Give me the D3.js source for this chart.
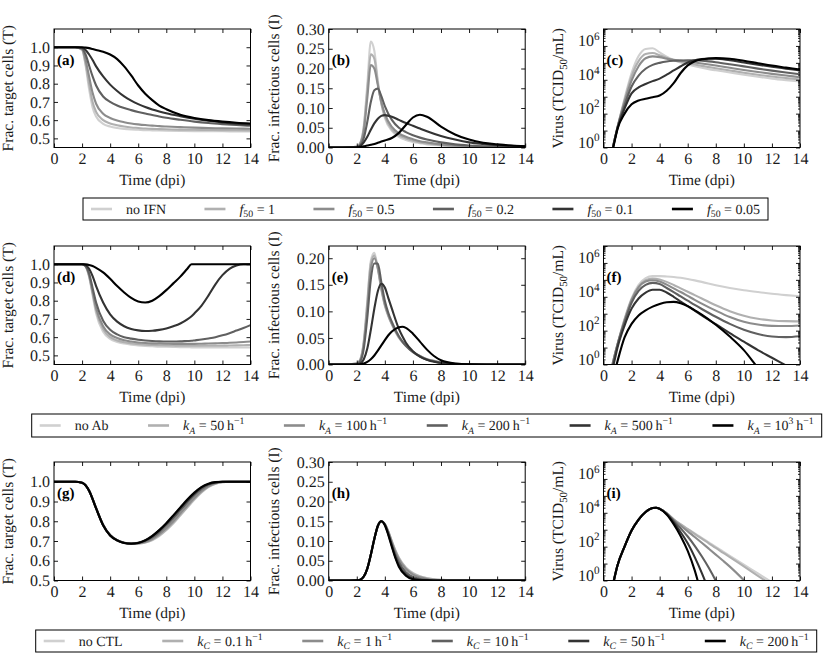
<!DOCTYPE html>
<html>
<head>
<meta charset="utf-8">
<script src="https://cdn.jsdelivr.net/npm/d3@7"></script>
<style>
  body { margin: 0; background: #fff; }
  svg { display: block; font-family: 'Liberation Serif', 'Times New Roman', serif; font-weight: normal; text-rendering: geometricPrecision; }
  svg text { fill: #1a1a1a; }
</style>
</head>
<body>
<svg id="fig" width="830" height="661"></svg>
<script>
// ---- data (6 series per panel, lightest -> black) ----
var xTicks = [0, 2, 4, 6, 8, 10, 12, 14];
var targetTicks = [0.5, 0.6, 0.7, 0.8, 0.9, 1.0];
var infTicksWide = [0, 0.05, 0.10, 0.15, 0.20, 0.25, 0.30];
var infTicksNarrow = [0, 0.05, 0.10, 0.15, 0.20];
var virusDecades = [0, 1, 2, 3, 4, 5, 6, 7];

var legendIFN = ['no IFN', '$f$_{50} = 1', '$f$_{50} = 0.5', '$f$_{50} = 0.2', '$f$_{50} = 0.1', '$f$_{50} = 0.05'];
var legendAb = ['no Ab', '$k$_{$A$} = 50\u2009h^{\u22121}', '$k$_{$A$} = 100\u2009h^{\u22121}', '$k$_{$A$} = 200\u2009h^{\u22121}',
  '$k$_{$A$} = 500\u2009h^{\u22121}', '$k$_{$A$} = 10^{3}\u2009h^{\u22121}'];
var legendCTL = ['no CTL', '$k$_{$C$} = 0.1\u2009h^{\u22121}', '$k$_{$C$} = 1\u2009h^{\u22121}', '$k$_{$C$} = 10\u2009h^{\u22121}',
  '$k$_{$C$} = 50\u2009h^{\u22121}', '$k$_{$C$} = 200\u2009h^{\u22121}'];

// (a) target cells, IFN
var timeA = [0, 1, 1.5, 2, 2.25, 2.5, 2.75, 3, 3.5, 4, 4.5, 5, 5.5, 6, 6.5, 7, 7.5, 8, 9, 10, 11, 12, 13, 14];
var targetIFN = [
  [1, 1, 1, 0.985, 0.9, 0.77, 0.67, 0.62, 0.58, 0.565, 0.557, 0.552, 0.549, 0.547, 0.545, 0.544, 0.543, 0.542, 0.541, 0.54, 0.539, 0.539, 0.538, 0.538],
  [1, 1, 1, 0.987, 0.91, 0.8, 0.7, 0.645, 0.6, 0.582, 0.572, 0.565, 0.56, 0.557, 0.554, 0.552, 0.551, 0.55, 0.548, 0.547, 0.546, 0.545, 0.545, 0.544],
  [1, 1, 1, 0.99, 0.93, 0.84, 0.75, 0.69, 0.635, 0.612, 0.598, 0.589, 0.582, 0.577, 0.573, 0.57, 0.567, 0.565, 0.562, 0.559, 0.557, 0.555, 0.554, 0.553],
  [1, 1, 1, 0.993, 0.96, 0.9, 0.84, 0.79, 0.73, 0.7, 0.68, 0.666, 0.655, 0.645, 0.636, 0.628, 0.62, 0.613, 0.602, 0.592, 0.584, 0.578, 0.573, 0.569],
  [1, 1, 1, 0.997, 0.985, 0.96, 0.93, 0.895, 0.84, 0.795, 0.76, 0.73, 0.707, 0.688, 0.672, 0.659, 0.648, 0.638, 0.622, 0.608, 0.597, 0.588, 0.581, 0.576],
  [1, 1, 1, 1, 0.998, 0.995, 0.99, 0.985, 0.975, 0.96, 0.935, 0.895, 0.845, 0.79, 0.745, 0.71, 0.68, 0.66, 0.63, 0.612, 0.6, 0.592, 0.586, 0.582]
];

// (b) infectious cells, IFN
var timeB = [0, 1, 2, 2.25, 2.5, 2.75, 3, 3.25, 3.5, 3.75, 4, 4.5, 5, 5.5, 6, 6.5, 7, 8, 9, 10, 11, 12, 13, 14];
var infIFN = [
  [0, 0, 0.002, 0.012, 0.055, 0.16, 0.268, 0.245, 0.17, 0.11, 0.075, 0.042, 0.027, 0.019, 0.014, 0.011, 0.008, 0.005, 0.003, 0.002, 0.0015, 0.001, 0.0008, 0.0006],
  [0, 0, 0.002, 0.011, 0.05, 0.145, 0.236, 0.225, 0.163, 0.112, 0.079, 0.046, 0.031, 0.023, 0.017, 0.013, 0.01, 0.006, 0.004, 0.003, 0.002, 0.0015, 0.001, 0.0008],
  [0, 0, 0.002, 0.01, 0.042, 0.125, 0.209, 0.2, 0.158, 0.115, 0.085, 0.052, 0.036, 0.027, 0.021, 0.016, 0.013, 0.008, 0.005, 0.003, 0.002, 0.0015, 0.001, 0.0008],
  [0, 0, 0.001, 0.006, 0.024, 0.065, 0.115, 0.145, 0.149, 0.13, 0.105, 0.07, 0.05, 0.039, 0.031, 0.025, 0.02, 0.013, 0.008, 0.005, 0.003, 0.002, 0.0015, 0.001],
  [0, 0, 0.001, 0.004, 0.013, 0.027, 0.045, 0.061, 0.073, 0.08, 0.082, 0.078, 0.07, 0.062, 0.055, 0.048, 0.041, 0.029, 0.02, 0.013, 0.009, 0.006, 0.004, 0.003],
  [0, 0, 0, 0.001, 0.003, 0.005, 0.007, 0.009, 0.012, 0.015, 0.018, 0.024, 0.037, 0.057, 0.076, 0.083, 0.078, 0.053, 0.033, 0.02, 0.012, 0.008, 0.005, 0.003]
];

// (c) virus, IFN (log10 of TCID50/mL)
var timeC = [0.5, 0.75, 1, 1.5, 2, 2.5, 3, 3.5, 4, 4.5, 5, 5.5, 6, 6.5, 7, 7.5, 8, 9, 10, 11, 12, 13, 14];
var virusIFN = [
  [-0.6, 0.3, 1.2, 2.9, 4.4, 5.4, 5.82, 5.86, 5.62, 5.37, 5.17, 5.02, 4.9, 4.8, 4.71, 4.63, 4.56, 4.43, 4.3, 4.18, 4.07, 3.98, 3.9],
  [-0.6, 0.3, 1.2, 2.8, 4.2, 5.1, 5.52, 5.58, 5.45, 5.29, 5.16, 5.06, 4.98, 4.9, 4.82, 4.75, 4.68, 4.55, 4.42, 4.3, 4.19, 4.1, 4.02],
  [-0.6, 0.3, 1.2, 2.7, 3.95, 4.8, 5.27, 5.38, 5.34, 5.25, 5.18, 5.13, 5.08, 5.02, 4.96, 4.9, 4.84, 4.71, 4.58, 4.46, 4.35, 4.25, 4.15],
  [-0.6, 0.3, 1.2, 2.5, 3.6, 4.25, 4.65, 4.88, 5.0, 5.08, 5.12, 5.14, 5.15, 5.15, 5.13, 5.09, 5.04, 4.92, 4.79, 4.66, 4.54, 4.43, 4.33],
  [-0.6, 0.3, 1.15, 2.3, 3.2, 3.55, 3.75, 3.92, 4.07, 4.3, 4.55, 4.8, 5.02, 5.15, 5.22, 5.25, 5.25, 5.15, 5.02, 4.89, 4.77, 4.66, 4.55],
  [-0.7, 0.2, 1.1, 2.0, 2.55, 2.78, 2.88, 2.97, 3.07, 3.35, 3.8, 4.4, 4.85, 5.1, 5.21, 5.26, 5.28, 5.24, 5.12, 4.98, 4.84, 4.72, 4.6]
];

// (d) target cells, antibodies
var timeD = [0, 1, 2, 2.25, 2.5, 2.75, 3, 3.5, 4, 4.5, 5, 5.5, 6, 6.5, 7, 7.5, 8, 8.5, 9, 9.5, 9.8, 10, 10.5, 11, 11.5, 12, 12.5, 13, 13.5, 14];
var targetAb = [
  [1, 1, 1, 0.987, 0.93, 0.83, 0.73, 0.63, 0.59, 0.574, 0.565, 0.559, 0.555, 0.552, 0.55, 0.548, 0.547, 0.546, 0.545, 0.545, 0.544, 0.544, 0.544, 0.543, 0.543, 0.543, 0.543, 0.543, 0.543, 0.543],
  [1, 1, 1, 0.988, 0.935, 0.84, 0.745, 0.645, 0.6, 0.582, 0.572, 0.566, 0.562, 0.559, 0.557, 0.556, 0.555, 0.554, 0.553, 0.553, 0.553, 0.553, 0.553, 0.553, 0.553, 0.553, 0.554, 0.555, 0.556, 0.557],
  [1, 1, 1, 0.99, 0.94, 0.85, 0.76, 0.66, 0.615, 0.595, 0.583, 0.576, 0.571, 0.568, 0.566, 0.565, 0.564, 0.563, 0.563, 0.563, 0.563, 0.563, 0.564, 0.565, 0.566, 0.567, 0.569, 0.571, 0.573, 0.576],
  [1, 1, 1, 0.99, 0.95, 0.87, 0.79, 0.69, 0.64, 0.615, 0.6, 0.592, 0.586, 0.582, 0.579, 0.577, 0.576, 0.576, 0.577, 0.579, 0.58, 0.582, 0.587, 0.593, 0.6, 0.61, 0.622, 0.636, 0.65, 0.666],
  [1, 1, 1, 0.995, 0.975, 0.935, 0.88, 0.79, 0.725, 0.685, 0.66, 0.645, 0.637, 0.634, 0.635, 0.64, 0.648, 0.66, 0.675, 0.697, 0.715, 0.73, 0.772, 0.828, 0.89, 0.94, 0.975, 0.993, 1, 1],
  [1, 1, 1, 0.999, 0.996, 0.99, 0.98, 0.955, 0.92, 0.88, 0.845, 0.815, 0.795, 0.79, 0.8, 0.825, 0.858, 0.895, 0.932, 0.975, 1, 1, 1, 1, 1, 1, 1, 1, 1, 1]
];

// (e) infectious cells, antibodies
var timeE = [0, 1, 2, 2.25, 2.5, 2.75, 3, 3.25, 3.5, 3.75, 4, 4.25, 4.5, 5, 5.25, 5.5, 6, 6.5, 7, 7.5, 8, 9, 10, 12, 14];
var infAb = [
  [0, 0, 0.002, 0.01, 0.045, 0.12, 0.195, 0.21, 0.18, 0.14, 0.11, 0.09, 0.075, 0.05, 0.042, 0.035, 0.024, 0.016, 0.01, 0.007, 0.004, 0.0015, 0.0005, 0, 0],
  [0, 0, 0.002, 0.009, 0.042, 0.115, 0.19, 0.205, 0.18, 0.142, 0.112, 0.092, 0.076, 0.051, 0.043, 0.035, 0.024, 0.016, 0.01, 0.007, 0.004, 0.0015, 0.0005, 0, 0],
  [0, 0, 0.002, 0.008, 0.038, 0.105, 0.18, 0.2, 0.182, 0.145, 0.114, 0.093, 0.077, 0.052, 0.043, 0.036, 0.024, 0.016, 0.01, 0.006, 0.004, 0.0015, 0.0005, 0, 0],
  [0, 0, 0.001, 0.006, 0.03, 0.088, 0.16, 0.19, 0.19, 0.155, 0.12, 0.097, 0.08, 0.053, 0.043, 0.035, 0.023, 0.015, 0.009, 0.006, 0.003, 0.001, 0.0004, 0, 0],
  [0, 0, 0.0005, 0.002, 0.01, 0.03, 0.065, 0.105, 0.138, 0.152, 0.145, 0.125, 0.105, 0.067, 0.053, 0.041, 0.025, 0.015, 0.009, 0.005, 0.003, 0.001, 0.0003, 0, 0],
  [0, 0, 0, 0.0005, 0.002, 0.005, 0.01, 0.017, 0.026, 0.036, 0.046, 0.055, 0.062, 0.07, 0.071, 0.069, 0.058, 0.043, 0.028, 0.016, 0.008, 0.002, 0.0005, 0, 0]
];

// (f) virus, antibodies (log10)
var timeF = [0.5, 0.75, 1, 1.5, 2, 2.5, 3, 3.5, 4, 4.5, 5, 5.5, 6, 6.5, 7, 8, 9, 10, 11, 12, 13, 14];
var virusAb = [
  [-0.5, 0.4, 1.2, 2.7, 3.9, 4.7, 5.1, 5.22, 5.22, 5.2, 5.17, 5.12, 5.05, 4.97, 4.88, 4.68, 4.52, 4.39, 4.28, 4.18, 4.1, 4.03],
  [-0.5, 0.4, 1.2, 2.65, 3.85, 4.6, 4.98, 5.08, 5.02, 4.88, 4.7, 4.5, 4.3, 4.1, 3.9, 3.5, 3.15, 2.88, 2.7, 2.6, 2.56, 2.55],
  [-0.5, 0.4, 1.2, 2.6, 3.8, 4.55, 4.9, 4.98, 4.9, 4.72, 4.5, 4.28, 4.05, 3.82, 3.6, 3.18, 2.8, 2.52, 2.36, 2.28, 2.27, 2.3],
  [-0.6, 0.3, 1.15, 2.5, 3.65, 4.35, 4.7, 4.82, 4.75, 4.52, 4.28, 4.02, 3.77, 3.52, 3.28, 2.82, 2.4, 2.05, 1.8, 1.65, 1.62, 1.67],
  [-0.7, 0.1, 1.0, 2.3, 3.3, 3.9, 4.25, 4.42, 4.42, 4.25, 4.0, 3.72, 3.45, 3.18, 2.9, 2.38, 1.85, 1.35, 0.85, 0.4, -0.05, -0.5],
  [-1.5, -0.6, 0.2, 1.6, 2.4, 2.9, 3.2, 3.42, 3.58, 3.68, 3.7, 3.62, 3.45, 3.2, 2.95, 2.35, 1.65, 0.85, -0.2, -1.2, -2, -3]
];

// (g) target cells, CTL
var timeG = [0, 1, 1.5, 2, 2.5, 3, 3.5, 4, 4.5, 5, 5.5, 6, 6.5, 7, 7.5, 8, 8.5, 9, 9.5, 10, 10.5, 11, 11.5, 12, 12.5, 13, 14];
var targetCTL = [
  [1, 1, 1, 0.995, 0.956, 0.867, 0.782, 0.73, 0.704, 0.691, 0.686, 0.687, 0.692, 0.704, 0.725, 0.754, 0.789, 0.829, 0.869, 0.909, 0.945, 0.973, 0.99, 0.998, 1, 1, 1],
  [1, 1, 1, 0.995, 0.956, 0.867, 0.782, 0.73, 0.704, 0.691, 0.686, 0.687, 0.693, 0.706, 0.728, 0.757, 0.792, 0.832, 0.872, 0.912, 0.947, 0.974, 0.99, 0.998, 1, 1, 1],
  [1, 1, 1, 0.995, 0.956, 0.867, 0.782, 0.73, 0.704, 0.691, 0.686, 0.688, 0.695, 0.71, 0.735, 0.765, 0.8, 0.84, 0.88, 0.918, 0.952, 0.977, 0.992, 0.999, 1, 1, 1],
  [1, 1, 1, 0.995, 0.955, 0.866, 0.781, 0.729, 0.704, 0.691, 0.687, 0.69, 0.7, 0.718, 0.745, 0.778, 0.815, 0.855, 0.895, 0.932, 0.962, 0.984, 0.996, 1, 1, 1, 1],
  [1, 1, 1, 0.995, 0.955, 0.865, 0.78, 0.728, 0.703, 0.69, 0.687, 0.691, 0.704, 0.726, 0.754, 0.788, 0.826, 0.866, 0.905, 0.94, 0.97, 0.988, 0.997, 1, 1, 1, 1],
  [1, 1, 1, 0.995, 0.955, 0.865, 0.78, 0.728, 0.703, 0.69, 0.686, 0.69, 0.703, 0.725, 0.755, 0.79, 0.83, 0.87, 0.91, 0.945, 0.973, 0.99, 0.998, 1, 1, 1, 1]
];

// (h) infectious cells, CTL
var timeH = [0, 1, 2, 2.25, 2.5, 2.75, 3, 3.25, 3.5, 3.75, 4, 4.25, 4.5, 4.75, 5, 5.5, 6, 6.5, 7, 7.5, 8, 9, 10, 12, 14];
var infCTL = [
  [0, 0, 0.0005, 0.002, 0.01, 0.03, 0.065, 0.105, 0.138, 0.15, 0.143, 0.124, 0.1, 0.077, 0.058, 0.033, 0.019, 0.011, 0.006, 0.0033, 0.0018, 0.0006, 0.0002, 0, 0],
  [0, 0, 0.0005, 0.002, 0.01, 0.03, 0.065, 0.105, 0.138, 0.15, 0.143, 0.124, 0.099, 0.076, 0.057, 0.032, 0.018, 0.01, 0.0055, 0.003, 0.0017, 0.0005, 0.0002, 0, 0],
  [0, 0, 0.0005, 0.002, 0.01, 0.03, 0.065, 0.105, 0.138, 0.15, 0.143, 0.123, 0.097, 0.073, 0.054, 0.029, 0.015, 0.008, 0.004, 0.002, 0.001, 0.0003, 0, 0, 0],
  [0, 0, 0.0005, 0.002, 0.01, 0.03, 0.065, 0.105, 0.138, 0.15, 0.142, 0.12, 0.092, 0.066, 0.046, 0.021, 0.009, 0.004, 0.0015, 0.0006, 0.0002, 0, 0, 0, 0],
  [0, 0, 0.0005, 0.002, 0.01, 0.03, 0.065, 0.105, 0.138, 0.15, 0.141, 0.117, 0.088, 0.06, 0.039, 0.015, 0.005, 0.0015, 0.0004, 0.0001, 0, 0, 0, 0, 0],
  [0, 0, 0.0005, 0.002, 0.01, 0.03, 0.065, 0.105, 0.138, 0.15, 0.14, 0.115, 0.085, 0.057, 0.035, 0.012, 0.003, 0.0008, 0.0002, 0, 0, 0, 0, 0, 0]
];

// (i) virus, CTL (log10)
var timeI = [0.5, 0.75, 1, 1.5, 2, 2.5, 3, 3.5, 3.75, 4, 4.5, 5, 5.5, 6, 6.5, 7, 7.5, 8, 8.5, 9, 10, 11, 12, 13];
var virusCTL = [
  [-0.9, 0.05, 0.9, 2.0, 2.95, 3.6, 4.05, 4.28, 4.3, 4.24, 3.98, 3.62, 3.32, 3.05, 2.78, 2.52, 2.25, 1.98, 1.72, 1.46, 0.94, 0.42, -0.1, -0.6],
  [-0.9, 0.05, 0.9, 2.0, 2.95, 3.6, 4.05, 4.28, 4.3, 4.24, 3.98, 3.62, 3.31, 3.03, 2.75, 2.47, 2.2, 1.92, 1.65, 1.38, 0.83, 0.28, -0.27, -0.8],
  [-0.9, 0.05, 0.9, 2.0, 2.95, 3.6, 4.05, 4.28, 4.3, 4.24, 3.97, 3.58, 3.24, 2.9, 2.57, 2.23, 1.88, 1.53, 1.18, 0.82, 0.02, -0.85, -1.8, -2.8],
  [-0.9, 0.05, 0.9, 2.0, 2.95, 3.6, 4.05, 4.28, 4.3, 4.24, 3.96, 3.52, 3.08, 2.6, 2.05, 1.43, 0.75, -0.02, -0.9, -1.8, -3, -4, -5, -6],
  [-0.9, 0.05, 0.9, 2.0, 2.95, 3.6, 4.05, 4.28, 4.3, 4.23, 3.93, 3.43, 2.85, 2.2, 1.38, 0.45, -0.6, -1.8, -3, -4, -5, -6, -7, -8],
  [-0.9, 0.05, 0.9, 2.0, 2.95, 3.6, 4.05, 4.28, 4.3, 4.23, 3.9, 3.33, 2.62, 1.75, 0.6, -0.9, -2.5, -4, -5, -6, -7, -8, -9, -10]
];

// ---- layout ----
var greys = ['#d0d0d0', '#b0b0b0', '#8c8c8c', '#606060', '#333333', '#000000'];
var colLeft = [54, 328.7, 603.5];
var rowTop = [29, 246, 462];
var axW = 196.5, axH = 118.5;
var tickFont = 16, labelFont = 15.5, legendFont = 14;

var svg = d3.select('#fig');

// mini markup: $x$ italic, _{..} subscript, ^{..} superscript
function richText(textSel, str, size) {
  var re = /\$([^$]+)\$|_\{([^}]*)\}|\^\{([^}]*)\}|([^$_^]+)/g;
  var m, shift = 0;
  while ((m = re.exec(str))) {
    var piece, italic = false, small = false, off = 0;
    if (m[1] !== undefined) { piece = m[1]; italic = true; }
    else if (m[2] !== undefined) { piece = m[2]; small = true; off = 0.28; }
    else if (m[3] !== undefined) { piece = m[3]; small = true; off = -0.42; }
    else { piece = m[4]; }
    if (piece.indexOf('$') >= 0) { italic = true; piece = piece.replace(/\$/g, ''); }
    var ts = textSel.append('tspan').text(piece);
    if (italic) ts.attr('font-style', 'italic');
    if (small) ts.attr('font-size', (size * 0.7) + 'px');
    var want = off * size;
    ts.attr('dy', (want - shift) + 'px');
    shift = want;
  }
}

var panels = [
  { tag: '(a)', col: 0, row: 0, t: timeA, data: targetIFN, dom: [0.45, 1.1], ticks: targetTicks, fmt: '.1f', ylab: 'Frac. target cells (T)', yl: 41 },
  { tag: '(b)', col: 1, row: 0, t: timeB, data: infIFN, dom: [0, 0.30], ticks: infTicksWide, fmt: '.2f', ylab: 'Frac. infectious cells (I)', yl: 50 },
  { tag: '(c)', col: 2, row: 0, t: timeC, data: virusIFN, log: true, ylab: 'Virus (TCID_{50}/mL)', yl: 41 },
  { tag: '(d)', col: 0, row: 1, t: timeD, data: targetAb, dom: [0.45, 1.1], ticks: targetTicks, fmt: '.1f', ylab: 'Frac. target cells (T)', yl: 41 },
  { tag: '(e)', col: 1, row: 1, t: timeE, data: infAb, dom: [0, 0.223], ticks: infTicksNarrow, fmt: '.2f', ylab: 'Frac. infectious cells (I)', yl: 50 },
  { tag: '(f)', col: 2, row: 1, t: timeF, data: virusAb, log: true, ylab: 'Virus (TCID_{50}/mL)', yl: 41 },
  { tag: '(g)', col: 0, row: 2, t: timeG, data: targetCTL, dom: [0.5, 1.1], ticks: targetTicks, fmt: '.1f', ylab: 'Frac. target cells (T)', yl: 41 },
  { tag: '(h)', col: 1, row: 2, t: timeH, data: infCTL, dom: [0, 0.30], ticks: infTicksWide, fmt: '.2f', ylab: 'Frac. infectious cells (I)', yl: 50 },
  { tag: '(i)', col: 2, row: 2, t: timeI, data: virusCTL, log: true, ylab: 'Virus (TCID_{50}/mL)', yl: 41 }
];

function styleAxis(sel) {
  sel.attr('font-size', null).attr('font-family', null);
  sel.select('.domain').remove();
  sel.selectAll('line').attr('stroke', '#000').attr('stroke-width', 0.9);
  sel.selectAll('text').attr('font-size', tickFont + 'px').attr('fill', null);
}

function drawPanel(p, idx) {
  var x0 = colLeft[p.col], y0 = rowTop[p.row];
  var g = svg.append('g').attr('transform', 'translate(' + x0 + ',' + y0 + ')');

  var xs = d3.scaleLinear().domain([0, 14]).range([0, axW]);
  var ys = p.log
    ? d3.scaleLog().domain([1, 1e7]).range([axH, 0])
    : d3.scaleLinear().domain(p.dom).range([axH, 0]);
  var val = p.log ? function(d) { return Math.pow(10, d); } : function(d) { return d; };

  var clipId = 'clip' + idx;
  g.append('clipPath').attr('id', clipId)
    .append('rect').attr('width', axW).attr('height', axH);

  var line = d3.line()
    .x(function(d, i) { return xs(p.t[i]); })
    .y(function(d) { return ys(val(d)); })
    .curve(d3.curveMonotoneX);

  var lines = g.append('g').attr('clip-path', 'url(#' + clipId + ')');
  p.data.forEach(function(s, k) {
    lines.append('path')
      .attr('d', line(s))
      .attr('fill', 'none')
      .attr('stroke', greys[k])
      .attr('stroke-width', 2.1)
      .attr('stroke-linejoin', 'round');
  });

  // x axes (bottom labelled, top ticks only)
  g.append('g').attr('transform', 'translate(0,' + axH + ')')
    .call(d3.axisBottom(xs).tickValues(xTicks).tickSize(-4).tickPadding(5).tickFormat(d3.format('d')))
    .call(styleAxis);
  g.append('g')
    .call(d3.axisTop(xs).tickValues(xTicks).tickSize(-4).tickFormat(function() { return ''; }))
    .call(styleAxis);

  if (p.log) {
    var majors = virusDecades.map(function(e) { return Math.pow(10, e); });
    var minors = [];
    virusDecades.slice(0, -1).forEach(function(e) {
      for (var m = 2; m <= 9; m++) minors.push(m * Math.pow(10, e));
    });
    var left = g.append('g')
      .call(d3.axisLeft(ys).tickValues(majors).tickSize(-4).tickPadding(4).tickFormat(function() { return ''; }))
      .call(styleAxis);
    left.selectAll('.tick text').each(function(d) {
      var e = Math.round(Math.log10(d));
      var txt = d3.select(this);
      if (e % 2 !== 0) { txt.remove(); return; }
      richText(txt, '10^{' + e + '}', tickFont);
    });
    g.append('g').call(d3.axisLeft(ys).tickValues(minors).tickSize(-2).tickFormat(function() { return ''; })).call(styleAxis);
    g.append('g').attr('transform', 'translate(' + axW + ',0)')
      .call(d3.axisRight(ys).tickValues(majors).tickSize(-4).tickFormat(function() { return ''; })).call(styleAxis);
    g.append('g').attr('transform', 'translate(' + axW + ',0)')
      .call(d3.axisRight(ys).tickValues(minors).tickSize(-2).tickFormat(function() { return ''; })).call(styleAxis);
  } else {
    g.append('g')
      .call(d3.axisLeft(ys).tickValues(p.ticks).tickSize(-4).tickPadding(4).tickFormat(d3.format(p.fmt)))
      .call(styleAxis);
    g.append('g').attr('transform', 'translate(' + axW + ',0)')
      .call(d3.axisRight(ys).tickValues(p.ticks).tickSize(-4).tickFormat(function() { return ''; }))
      .call(styleAxis);
  }

  // frame
  g.append('rect').attr('width', axW).attr('height', axH)
    .attr('fill', 'none').attr('stroke', '#000').attr('stroke-width', 1);

  // axis labels
  g.append('text')
    .attr('x', axW / 2).attr('y', axH + 37)
    .attr('text-anchor', 'middle')
    .attr('font-size', labelFont + 'px')
    .text('Time (dpi)');
  var yl = g.append('text')
    .attr('transform', 'translate(' + (-p.yl) + ',' + (axH / 2) + ') rotate(-90)')
    .attr('text-anchor', 'middle')
    .attr('dy', '0.32em')
    .attr('font-size', labelFont + 'px');
  richText(yl, p.ylab, labelFont);

  // panel tag
  g.append('text')
    .attr('x', 3).attr('y', axH * 0.26 + 5)
    .attr('font-size', '15px')
    .attr('font-weight', 'bold')
    .style('fill', '#000')
    .text(p.tag);
}

panels.forEach(drawPanel);

// ---- legends ----
var legends = [
  { x0: 83, x1: 768, y0: 198, y1: 220, labels: legendIFN },
  { x0: 31.7, x1: 821.7, y0: 414, y1: 437, labels: legendAb },
  { x0: 35.7, x1: 816.7, y0: 630, y1: 652, labels: legendCTL }
];

legends.forEach(function(L) {
  var g = svg.append('g');
  g.append('rect')
    .attr('x', L.x0).attr('y', L.y0)
    .attr('width', L.x1 - L.x0).attr('height', L.y1 - L.y0)
    .attr('fill', '#fff').attr('stroke', '#000').attr('stroke-width', 1);
  var cy = (L.y0 + L.y1) / 2;
  var handle = 21, gap = 14, pad = 8;
  var items = L.labels.map(function(lab, k) {
    var it = g.append('g');
    it.append('line').attr('x1', 0).attr('x2', handle).attr('y1', cy).attr('y2', cy)
      .attr('stroke', greys[k]).attr('stroke-width', 2.6);
    var tx = it.append('text').attr('x', handle + gap).attr('y', cy + 4.5)
      .attr('font-size', legendFont + 'px');
    richText(tx, lab, legendFont);
    return { g: it, w: handle + gap + tx.node().getComputedTextLength() };
  });
  var total = d3.sum(items, function(d) { return d.w; });
  var colsp = (L.x1 - L.x0 - 2 * pad - total) / (items.length - 1);
  var x = L.x0 + pad;
  items.forEach(function(it) {
    it.g.attr('transform', 'translate(' + x + ',0)');
    x += it.w + colsp;
  });
});
</script>
</body>
</html>
